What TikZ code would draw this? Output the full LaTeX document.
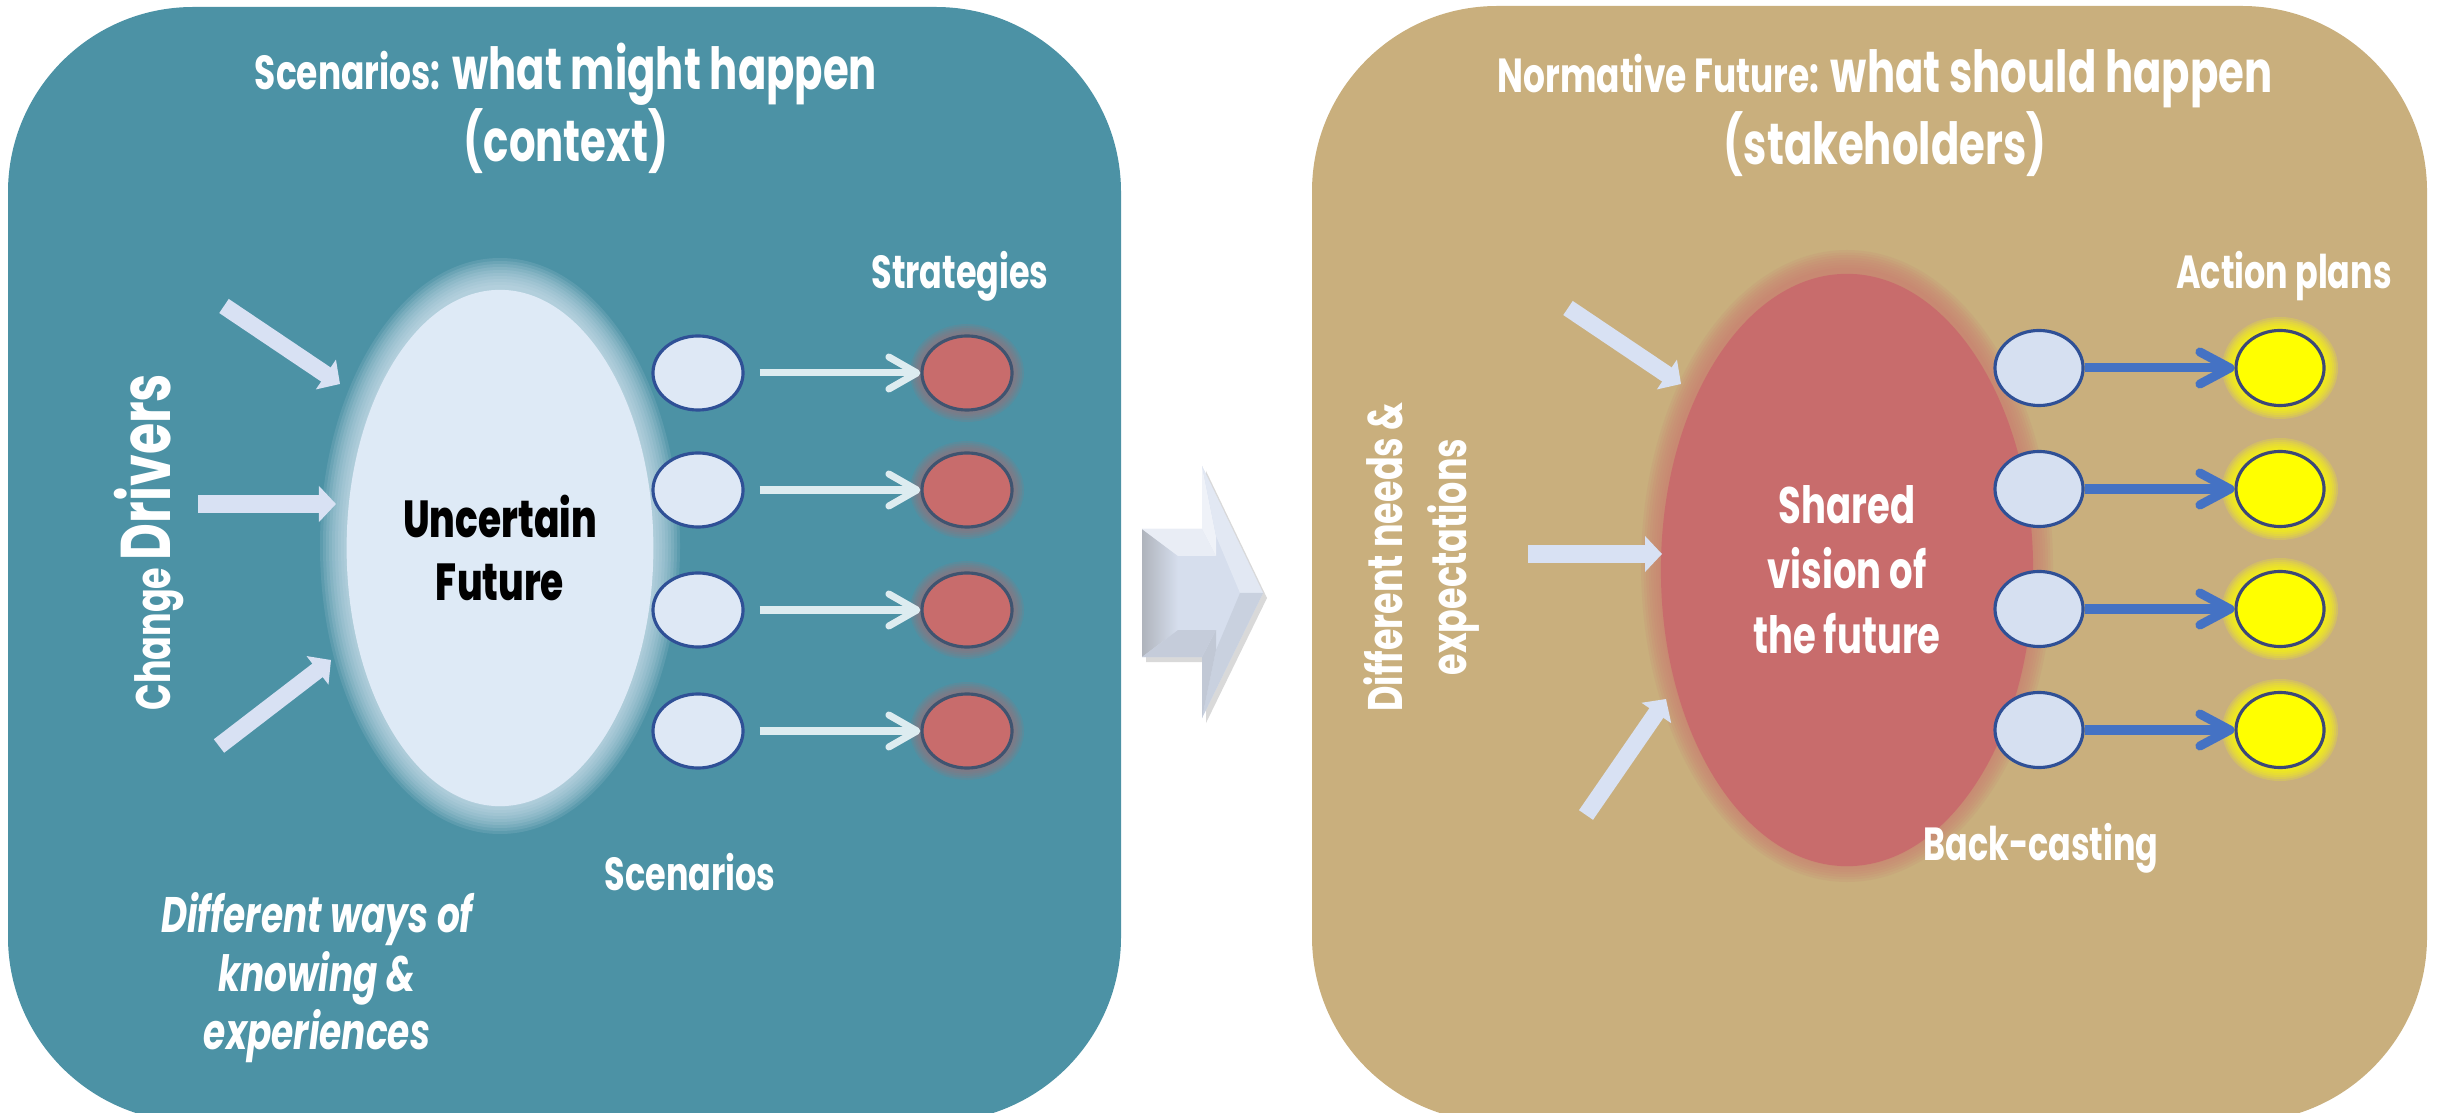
\documentclass[tikz,border=0pt]{standalone}
\usepackage{fontspec}
\setmainfont{Poppins}[FakeStretch=0.72]
\newfontfamily\heavysans{Poppins}[FakeStretch=0.72, BoldFont={* ExtraBold}]
\usetikzlibrary{shapes.geometric,arrows.meta}

\definecolor{panelteal}{RGB}{76,146,165}
\definecolor{paneltan}{RGB}{201,175,125}
\definecolor{fogblue}{RGB}{222,234,246}
\definecolor{dotblue}{RGB}{222,232,245}
\definecolor{castblue}{RGB}{214,224,241}
\definecolor{dotline}{RGB}{47,80,150}
\definecolor{stratred}{RGB}{200,108,108}
\definecolor{stratline}{RGB}{64,84,112}
\definecolor{halored}{RGB}{160,110,118}
\definecolor{visionred}{RGB}{200,108,108}
\definecolor{planyellow}{RGB}{255,255,0}
\definecolor{planline}{RGB}{60,72,120}
\definecolor{linkblue}{RGB}{68,114,196}
\definecolor{linkpale}{RGB}{221,236,240}
\definecolor{driverblue}{RGB}{216,225,243}
\definecolor{bevelmid}{RGB}{214,222,237}

\newcommand{\headlead}[1]{{\fontsize{13.6}{16}\selectfont #1}}

\tikzset{
  panel/.style={rounded corners=1.85cm},
  headline/.style={text=white, font=\bfseries\fontsize{16.5}{19}\selectfont},
  tagline/.style={text=white, font=\bfseries\fontsize{13.2}{16}\selectfont},
  side note/.style={text=white, font=\bfseries\fontsize{13.8}{18.2}\selectfont},
  scen dot/.style={ellipse, draw=dotline, line width=0.9pt, fill=dotblue,
    minimum width=0.9cm, minimum height=0.74cm, inner sep=0pt},
  strat dot/.style={scen dot, draw=stratline, fill=stratred},
  cast dot/.style={scen dot, fill=castblue, minimum width=0.88cm, minimum height=0.75cm},
  plan dot/.style={scen dot, draw=planline, fill=planyellow,
    minimum width=0.88cm, minimum height=0.75cm},
  pale link/.style={draw=linkpale, line width=0.07cm, shorten <=0.15cm,
    -{Straight Barb[length=0.28cm, width=0.32cm, round]}},
  blue link/.style={draw=linkblue, line width=0.09cm,
    -{Straight Barb[length=0.3cm, width=0.32cm, round]}},
  driver/.style={draw=driverblue, line width=0.17cm,
    -{Triangle[length=0.17cm, width=0.35cm]}},
}

\begin{document}
\begin{tikzpicture}[x=0.01cm, y=-0.01cm]
  \useasboundingbox (0,0) rectangle (2440,1113);

  % the two panels
  \fill[panelteal, panel] (8,7) rectangle (1121,1122);
  \fill[paneltan, panel] (1312,6) rectangle (2427,1122);

  \node[headline, anchor=base] (scen head) at (566,90) {\headlead{Scenarios:} what might happen};
  \node[headline, anchor=base] (scen sub) at (566,162) {(context)};
  \node[headline, anchor=base] (norm head) at (1885,93) {\headlead{Normative Future:} what should happen};
  \node[headline, anchor=base] (norm sub) at (1885,165) {(stakeholders)};

  % left panel: foggy future
  \foreach \k in {1,...,10}
    \fill[fogblue, opacity=.12] (500,546) ellipse ({150+3*\k} and {258+3*\k});
  \node[ellipse, fill=fogblue, minimum width=3cm, minimum height=5.16cm, align=center,
    text=black, font=\heavysans\bfseries\fontsize{14.8}{18}\selectfont] (future) at (500,548)
    {Uncertain\\Future};

  \coordinate (chg1) at (224,306);  \coordinate (chg1 tip) at (340,384);
  \coordinate (chg2) at (198,504);  \coordinate (chg2 tip) at (336,504);
  \coordinate (chg3) at (219,746);  \coordinate (chg3 tip) at (331,660);
  \draw[driver] (chg1) -- (chg1 tip);
  \draw[driver] (chg2) -- (chg2 tip);
  \draw[driver] (chg3) -- (chg3 tip);

  \node[side note, rotate=90, anchor=base] (drivers) at (170,542)
    {Change {\fontsize{20}{22}\selectfont Drivers}};

  \foreach \n/\y in {1/373,2/490,3/610,4/731} {
    \foreach \k in {1,...,6}
      \fill[halored, opacity=.16] (967,\y) ellipse ({45+2*\k} and {37+2*\k});
    \node[scen dot] (s\n) at (698,\y) {};
    \node[strat dot] (g\n) at (967,\y) {};
    \draw[pale link] (s\n) -- (g\n);
  }

  \node[tagline, anchor=base] (strat label) at (960,289) {Strategies};
  \node[tagline, anchor=base] (scen label) at (690,890) {Scenarios};
  \node[text=white, font=\bfseries\itshape\fontsize{14.2}{16.6}\selectfont, align=center]
    (ways) at (317,978) {Different ways of\\knowing \&\\experiences};

  % bevelled arrow between the panels
  \fill[gray, opacity=.3] (1146,534) -- (1206,534) -- (1206,471) -- (1267,598)
    -- (1206,723) -- (1206,662) -- (1146,662) -- cycle;
  \fill[bevelmid] (1142,529) -- (1202,529) -- (1202,466) -- (1263,593)
    -- (1202,718) -- (1202,657) -- (1142,657) -- cycle;
  \shade[left color=gray!45!bevelmid, right color=bevelmid]
    (1142,529) -- (1178,556) -- (1178,630) -- (1142,657) -- cycle;
  \fill[white!45!bevelmid] (1142,529) -- (1202,529) -- (1216,556) -- (1178,556) -- cycle;
  \fill[white!60!bevelmid] (1202,529) -- (1202,466) -- (1216,536) -- (1216,556) -- cycle;
  \fill[white!30!bevelmid] (1202,466) -- (1263,593) -- (1240,593) -- (1216,536) -- cycle;
  \fill[black!6!bevelmid] (1263,593) -- (1202,718) -- (1216,650) -- (1240,593) -- cycle;
  \fill[black!10!bevelmid] (1202,718) -- (1202,657) -- (1216,630) -- (1216,650) -- cycle;
  \fill[black!8!bevelmid] (1202,657) -- (1142,657) -- (1178,630) -- (1216,630) -- cycle;

  % right panel: shared vision
  \foreach \k in {1,...,8}
    \fill[visionred!75!paneltan, opacity=.14] (1847,566) ellipse ({186+2.5*\k} and {296+2.5*\k});
  \node[ellipse, fill=visionred, minimum width=3.72cm, minimum height=5.92cm, align=center,
    text=white, font=\bfseries\fontsize{14.6}{18.5}\selectfont] (vision) at (1847,570)
    {Shared\\vision of\\the future};

  \coordinate (need1) at (1568,308);  \coordinate (need1 tip) at (1681,384);
  \coordinate (need2) at (1528,554);  \coordinate (need2 tip) at (1662,554);
  \coordinate (need3) at (1586,815);  \coordinate (need3 tip) at (1666,699);
  \draw[driver] (need1) -- (need1 tip);
  \draw[driver] (need2) -- (need2 tip);
  \draw[driver] (need3) -- (need3 tip);

  \node[side note, rotate=90, align=center] (needs) at (1421,557)
    {Different needs \&\\expectations};

  \foreach \n/\y in {1/368,2/489,3/609,4/730} {
    \foreach \k in {1,...,7}
      \fill[planyellow, opacity=.2] (2280,\y) ellipse ({44+2*\k} and {37+2*\k});
    \node[cast dot] (b\n) at (2039,\y) {};
    \node[plan dot] (p\n) at (2280,\y) {};
    \draw[blue link] (b\n) -- (p\n);
  }

  \node[tagline, anchor=base] (plan label) at (2284,289) {Action plans};
  \node[tagline, anchor=base] (cast label) at (2041,860) {Back-casting};
\end{tikzpicture}
\end{document}
